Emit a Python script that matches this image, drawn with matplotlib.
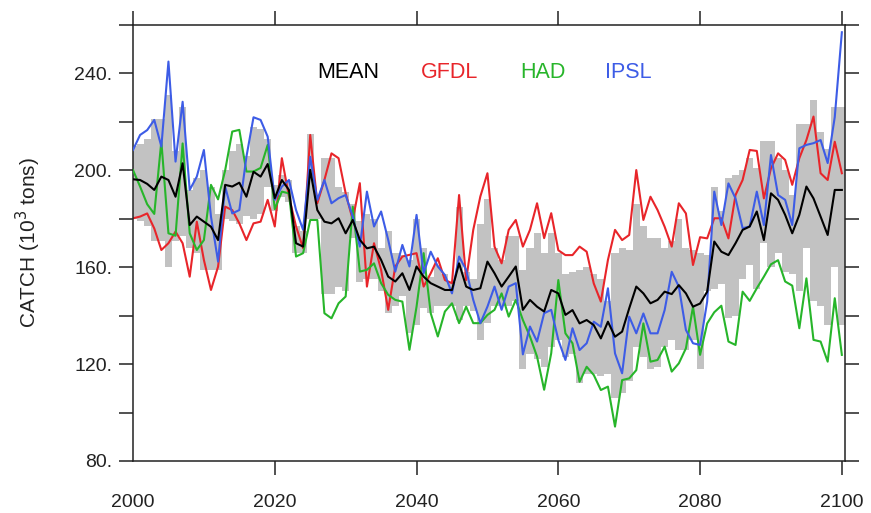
import numpy as np
import matplotlib
matplotlib.use("Agg")
import matplotlib.pyplot as plt
from matplotlib.ticker import FixedLocator, FuncFormatter

# annual catch, 10^3 tons, 2000-2100
years = np.arange(2000, 2101)

ipsl = [208.4, 214.6, 216.6, 220.8, 209.8, 244.9, 203.6, 228.3, 191.9, 197.4,
        208.4, 180.9, 162.3, 193.3, 182.2, 183.6, 205.6, 221.9, 220.8, 213.9,
        187.8, 193.3, 196.0, 183.6, 175.4, 205.6, 187.8, 196.0, 186.4, 188.5,
        189.8, 180.9, 168.5, 191.2, 176.8, 183.0, 171.3, 158.2, 169.2, 160.3,
        181.6, 157.5, 166.4, 160.3, 156.8, 149.2, 164.4, 158.9, 146.5, 136.9,
        143.7, 152.0, 142.4, 152.0, 153.4, 124.0, 135.5, 129.3, 141.0, 142.4,
        130.0, 121.7, 134.8, 125.8, 128.6, 137.5, 135.4, 151.3, 124.4, 116.2,
        139.6, 132.7, 140.9, 132.7, 132.7, 142.3, 158.1, 152.0, 134.1, 128.6,
        127.9, 145.8, 191.2, 177.4, 194.6, 188.4, 176.1, 176.8, 191.2, 177.4,
        206.3, 189.8, 187.8, 177.4, 209.1, 210.5, 211.2, 212.5, 203.0, 222.0,
        257.0]

gfdl = [180.2, 180.9, 182.2, 176.0, 167.1, 169.9, 174.7, 169.9, 156.1, 178.8,
        163.0, 150.6, 160.2, 185.0, 183.6, 178.1, 171.2, 178.1, 178.8, 187.8,
        176.8, 205.0, 189.2, 176.8, 167.8, 214.6, 186.4, 196.0, 207.0, 205.0,
        190.5, 179.5, 194.7, 152.0, 169.9, 158.9, 142.4, 160.3, 164.4, 165.1,
        165.8, 152.0, 157.5, 163.7, 154.7, 153.4, 189.8, 154.7, 175.4, 189.2,
        198.8, 168.5, 161.6, 175.4, 179.5, 168.5, 175.4, 186.4, 172.0, 182.3,
        167.0, 165.0, 165.0, 168.5, 166.4, 153.3, 145.8, 163.0, 175.4, 171.2,
        173.3, 200.1, 179.5, 189.1, 183.6, 176.7, 168.5, 186.4, 182.2, 160.9,
        172.4, 171.9, 180.2, 180.2, 171.9, 189.8, 196.0, 208.4, 208.0, 188.4,
        200.8, 207.0, 204.3, 194.0, 205.0, 212.5, 222.2, 198.8, 196.0, 211.8,
        198.8]

had = [200.1, 193.3, 186.0, 182.0, 212.0, 174.0, 173.0, 211.1, 174.0, 167.1,
       171.2, 194.0, 188.0, 200.0, 216.0, 216.7, 199.5, 199.5, 201.0, 210.5,
       184.0, 191.2, 190.5, 164.4, 165.8, 179.5, 179.5, 141.0, 138.9, 145.1,
       147.9, 185.0, 158.2, 158.9, 161.6, 153.4, 148.6, 146.5, 145.8, 125.9,
       143.7, 165.8, 141.0, 131.4, 141.7, 145.1, 136.9, 143.7, 136.9, 136.9,
       140.3, 142.4, 149.2, 139.6, 146.5, 138.2, 131.4, 123.1, 109.4, 124.5,
       154.7, 132.7, 128.6, 112.7, 118.9, 115.5, 109.3, 110.7, 94.2, 113.4,
       114.1, 117.5, 136.8, 121.0, 121.7, 127.2, 116.9, 120.3, 126.5, 143.7,
       123.8, 136.8, 141.4, 144.1, 129.3, 127.9, 149.9, 146.1, 151.3, 156.1,
       161.2, 162.9, 154.1, 152.4, 134.8, 155.4, 130.0, 129.3, 121.0, 147.2,
       123.8]

mean = [196.3, 196.0, 194.4, 191.9, 197.4, 196.0, 189.1, 202.9, 177.4, 180.9,
        178.8, 176.7, 171.2, 194.0, 193.3, 194.9, 189.1, 199.4, 197.4, 202.6,
        188.5, 196.0, 191.9, 169.9, 168.5, 200.2, 183.6, 178.8, 178.1, 180.2,
        174.0, 179.5, 171.3, 167.8, 168.5, 163.0, 156.1, 154.1, 157.5, 150.6,
        160.3, 156.1, 153.4, 152.0, 150.6, 150.6, 161.6, 152.0, 150.6, 151.3,
        162.3, 157.5, 152.0, 156.1, 160.3, 142.4, 146.5, 143.7, 141.7, 150.6,
        149.2, 140.3, 142.3, 136.8, 138.2, 136.1, 130.6, 137.5, 131.3, 133.4,
        143.0, 152.0, 149.2, 145.1, 146.5, 149.9, 148.9, 152.6, 149.2, 143.7,
        145.0, 149.9, 170.6, 166.4, 165.0, 169.9, 175.4, 176.8, 183.0, 171.2,
        190.5, 187.8, 181.6, 174.0, 181.6, 193.3, 188.4, 180.9, 173.3, 191.9,
        191.9]

# spread across the models (lower / upper edge of the grey bars)
spread_lo = [180, 179, 177, 171, 171, 160, 171, 173, 168, 166,
             159, 159, 159, 180, 179, 178, 181, 180, 182, 193,
             183, 189, 187, 166, 166, 180, 180, 149, 149, 152,
             150, 172, 154, 155, 155, 150, 141, 144, 148, 133,
             136, 143, 141, 144, 144, 144, 138, 144, 142, 130,
             137, 144, 144, 144, 146, 118, 124, 122, 119, 127,
             130, 123, 124, 112, 116, 116, 115, 116, 106, 108,
             113, 127, 123, 118, 119, 127, 130, 126, 126, 130,
             118, 150, 151, 153, 139, 140, 155, 161, 151, 170,
             160, 166, 158, 157, 150, 168, 146, 144, 136, 160,
             136]
spread_hi = [210, 211, 213, 221, 221, 231, 208, 226, 192, 197,
             200, 193, 182, 200, 208, 211, 206, 218, 217, 213,
             194, 198, 196, 177, 175, 215, 190, 205, 205, 193,
             191, 186, 179, 182, 180, 168, 175, 166, 165, 163,
             180, 168, 156, 161, 157, 154, 185, 158, 155, 178,
             188, 168, 163, 173, 173, 159, 168, 174, 166, 174,
             166, 157, 158, 159, 160, 157, 155, 146, 166, 168,
             167, 186, 177, 172, 172, 168, 171, 180, 168, 167,
             166, 165, 193, 183, 197, 198, 200, 205, 201, 212,
             212, 205, 200, 190, 219, 219, 229, 216, 209, 226,
             226]

labels = ["MEAN", "GFDL", "HAD", "IPSL"]
label_colors = ["black", "#e8252a", "#27b52a", "#3d5ce6"]

plt.rcParams['font.family'] = ['Liberation Sans', 'DejaVu Sans']

fig = plt.figure(figsize=(8.71, 5.13), dpi=100)
ax = fig.add_axes([0.1527, 0.1014, 0.8175, 0.8499])

lo = np.array(spread_lo, dtype=float)
hi = np.array(spread_hi, dtype=float)
ax.bar(years, hi - lo, bottom=lo, width=1.0, color="#c2c2c2", linewidth=0, zorder=1)

lw = 1.5
ax.plot(years, gfdl, color=label_colors[1], lw=lw, zorder=2)
ax.plot(years, had, color=label_colors[2], lw=lw, zorder=3)
ax.plot(years, ipsl, color=label_colors[3], lw=lw, zorder=4)
ax.plot(years, mean, color=label_colors[0], lw=lw, zorder=5)

ax.set_xlim(2000, 2100.45)
ax.set_ylim(80, 260)

ax.xaxis.set_major_locator(FixedLocator([2000, 2020, 2040, 2060, 2080, 2100]))
ax.yaxis.set_major_locator(FixedLocator([80, 120, 160, 200, 240]))
ax.yaxis.set_minor_locator(FixedLocator([100, 140, 180, 220, 260]))
ax.yaxis.set_major_formatter(FuncFormatter(lambda v, p: f"{int(v)}."))

ax.tick_params(axis="both", which="both", direction="out", length=10, width=1.1,
               color="#222222", top=True, right=True, labelsize=14, labelcolor="#222222")
ax.tick_params(axis="x", pad=14)
ax.tick_params(axis="y", pad=5)
ax.xaxis.get_major_ticks()[0].tick1line.set_visible(False)

for s in ax.spines.values():
    s.set_linewidth(1.1)
    s.set_color("#222222")

ax.set_ylabel("CATCH (10$^3$ tons)", fontsize=15, color="#222222", labelpad=22)

# model key along the top
for txt, col, xpos in zip(labels, label_colors, [0.302, 0.444, 0.576, 0.695]):
    ax.text(xpos, 0.89, txt, color=col, fontsize=15.5, ha="center", va="center",
            transform=ax.transAxes)

fig.savefig("out.png", dpi=100)
